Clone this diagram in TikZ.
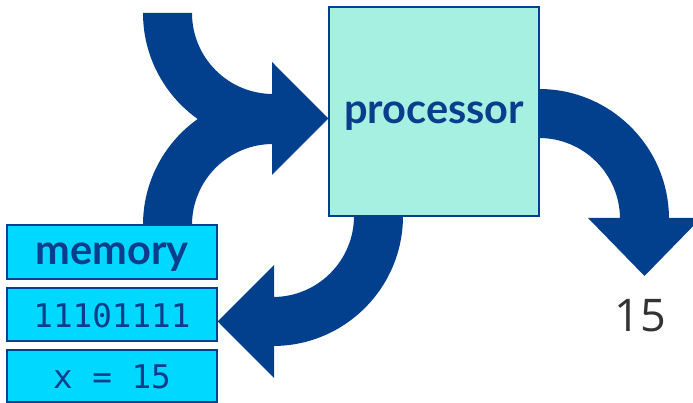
\documentclass[tikz,border=0pt]{standalone}
\usepackage{fontspec}
\newfontfamily\labelfont{Lato}
\newfontfamily\codefont{DejaVu Sans Mono}
\newfontfamily\numfont{Open Sans}
\usetikzlibrary{calc}
\definecolor{arrowblue}{RGB}{2,64,142}
\definecolor{procfill}{RGB}{166,240,226}
\definecolor{memfill}{RGB}{0,216,255}
\definecolor{textblue}{RGB}{10,62,140}
\definecolor{numgray}{RGB}{51,51,51}
\tikzset{
  fatarrow/.style={fill=arrowblue},
  procbox/.style={draw=arrowblue, line width=1.5pt, fill=procfill, inner sep=0pt,
    minimum width=210pt, minimum height=209pt, text=textblue,
    font=\labelfont\bfseries\fontsize{41.5}{41.5}\selectfont, text height=25pt, text depth=0pt},
  membox/.style={draw=arrowblue, line width=1.5pt, fill=memfill, inner sep=0pt,
    minimum width=210pt, text=textblue, text height=26pt, text depth=0pt},
}
\begin{document}
\begin{tikzpicture}[x=1pt,y=1pt]
\useasboundingbox (0,0) rectangle (693,403);
\clip (0,0) rectangle (693,403);
% named coordinates for the fat arrows
\coordinate (cin) at (273,390);   % centre of the incoming arc from above
\coordinate (cmem) at (273,178);  % centre of the arc from memory
\coordinate (cout) at (539,184);  % centre of the output arc
\coordinate (cback) at (273,187); % centre of the arc back to memory
% arrow from above into processor
\fill[fatarrow] ($(cin)+(-130,0)$) arc[start angle=180,end angle=270,radius=130]
  -- ($(cin)+(0,-81)$) arc[start angle=270,end angle=180,radius=81] -- cycle;
% arrow from memory into processor
\fill[fatarrow] ($(cmem)+(-130,0)$) arc[start angle=180,end angle=90,radius=130]
  -- ($(cmem)+(0,81)$) arc[start angle=90,end angle=180,radius=81] -- cycle;
% output arc
\fill[fatarrow] ($(cout)+(0,130)$) arc[start angle=90,end angle=0,radius=130]
  -- ($(cout)+(81,0)$) arc[start angle=0,end angle=90,radius=81] -- cycle;
% arc back to memory
\fill[fatarrow] ($(cback)+(130,0)$) arc[start angle=0,end angle=-90,radius=130]
  -- ($(cback)+(0,-81)$) arc[start angle=-90,end angle=0,radius=81] -- cycle;

% boxes
\node[procbox] (proc) at (434,291.5) {processor};
\node[membox, minimum height=54pt, font=\labelfont\bfseries\fontsize{41.5}{41.5}\selectfont] (mem) at (112,151) {memory};
\node[membox, minimum height=53pt, font=\codefont\fontsize{32.6}{32.6}\selectfont] (bits) at (112,88.5) {11101111};
\node[membox, minimum height=52pt, font=\codefont\fontsize{32.6}{32.6}\selectfont] (var) at (112,27) {x = 15};
\node[anchor=base, inner sep=0pt, text=numgray, font=\numfont\fontsize{45}{45}\selectfont] (out) at (640.5,71) {15};

% arrowheads
\fill[fatarrow] ($(cin)+(-1,-49)$) -- ($(proc.west)+(0,-7)$) -- ($(cin)+(-1,-162)$) -- cycle;
\fill[fatarrow] ($(cout)+(49,1)$) -- ($(cout)+(105.5,-57)$) -- ($(cout)+(162,1)$) -- cycle;
\fill[fatarrow] ($(cback)+(1,-49)$) -- (bits.east |- 0,81.5) -- ($(cback)+(1,-162)$) -- cycle;
\end{tikzpicture}
\end{document}
